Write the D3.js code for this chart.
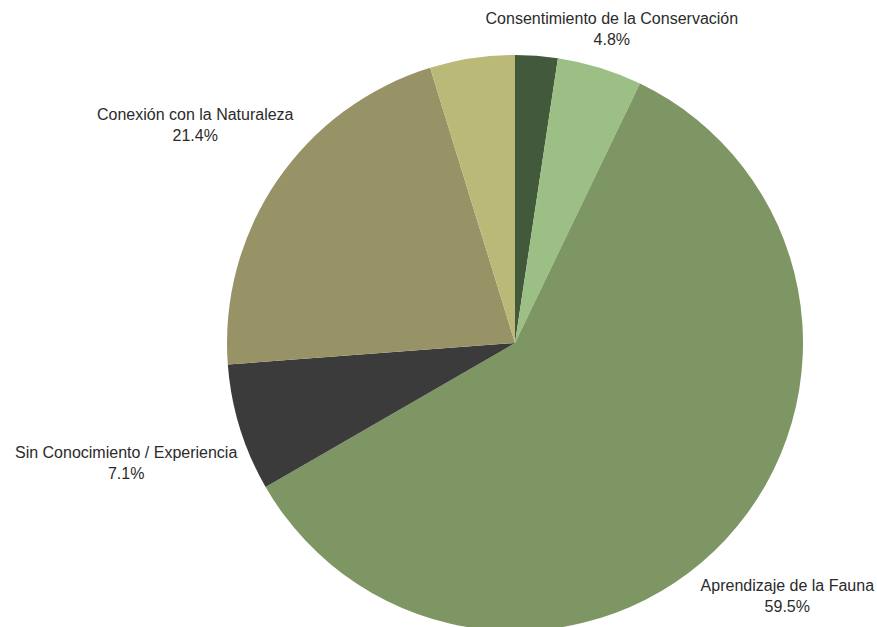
<!DOCTYPE html>
<html>
<head>
<meta charset="utf-8">
<script src="https://cdn.jsdelivr.net/npm/d3@7"></script>
<style>
  body { margin: 0; background: #fff; }
  svg { display: block; }
  .label text { font-family: "Liberation Sans", Arial, sans-serif; font-size: 16px; fill: #2b2b2b; }
</style>
</head>
<body>
<svg width="877" height="627"></svg>
<script>
// slices clockwise from 12 o'clock
var categories = ["Otro A", "Consentimiento de la Conservación", "Aprendizaje de la Fauna",
                  "Sin Conocimiento / Experiencia", "Conexión con la Naturaleza", "Otro B"];
var counts = [1, 2, 25, 3, 9, 2];
var showLabel = [false, true, true, true, true, false];
var colors = ["#425a3b", "#9bbf85", "#7e9663", "#3b3b3b", "#979366", "#bab977"];

var svg = d3.select("svg"),
    width = +svg.attr("width"),
    height = +svg.attr("height");

var cx = 515, cy = 343, radius = 288, pad = 7, topMargin = 10;
var total = d3.sum(counts);

var pie = d3.pie().sort(null).value(function (d) { return d; });
var arc = d3.arc().innerRadius(0).outerRadius(radius);

var arcs = pie(counts);

var g = svg.append("g").attr("transform", "translate(" + cx + "," + cy + ")");

g.selectAll("path")
    .data(arcs)
    .enter().append("path")
    .attr("d", arc)
    .attr("fill", function (d, i) { return colors[i]; });

var fmt = d3.format(".1%");

var lab = g.selectAll("g.label")
    .data(arcs.filter(function (d, i) { return showLabel[i]; }))
    .enter().append("g")
    .attr("class", "label");

lab.append("text")
    .attr("text-anchor", "middle")
    .attr("y", -5)
    .text(function (d) { return categories[d.index]; });
lab.append("text")
    .attr("text-anchor", "middle")
    .attr("y", 16)
    .text(function (d) { return fmt(d.value / total); });

// label box sits on the mid-angle ray, just clear of the pie, kept inside the page
lab.attr("transform", function (d) {
    var a = (d.startAngle + d.endAngle) / 2;
    var ux = Math.sin(a), uy = -Math.cos(a);
    var bb = this.getBBox();
    var hw = bb.width / 2, hh = bb.height / 2;
    var dist = radius + pad + Math.abs(ux) * hw + Math.abs(uy) * hh;
    var x = dist * ux, y = dist * uy;
    if (cy + y - hh < topMargin) {
        y = topMargin + hh - cy;
        x = y * ux / uy;
    }
    return "translate(" + (x - (bb.x + hw)) + "," + (y - (bb.y + hh)) + ")";
});
</script>
</body>
</html>
